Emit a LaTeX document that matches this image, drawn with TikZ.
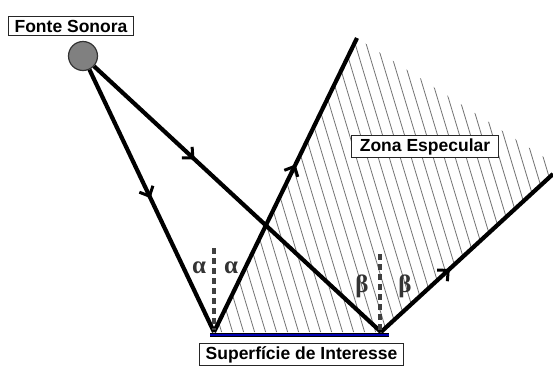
\documentclass[tikz,border=0pt]{standalone}
\usepackage{fontspec}
\setmainfont{Liberation Sans}
\newfontfamily\greekfont{Liberation Serif}
\usetikzlibrary{arrows.meta,decorations.markings}
\begin{document}
\begin{tikzpicture}[x=1pt,y=-1pt,
  ray/.style={line width=4.2pt},
  midarrow/.style={postaction={decorate},decoration={markings,
     mark=at position #1 with {\arrow{Straight Barb[length=8pt,width=15pt,line width=3pt]}}}},
  labelbox/.style={draw=black!85,line width=1.1pt,fill=white,font=\bfseries\fontsize{17.5}{20}\selectfont,inner xsep=6pt,inner ysep=3pt},
  greek/.style={text=black!80,font=\greekfont\bfseries\fontsize{25}{28}\selectfont,inner sep=0pt},
  normal/.style={draw=black!75,line width=3.4pt,dash pattern=on 6pt off 4pt},
  hatch/.style={draw=black!55,line width=0.8pt}]
\useasboundingbox (0,0) rectangle (553,365);
\fill[white] (0,0) rectangle (553,365);
% points
\coordinate (A) at (214,332);
\coordinate (B) at (381,332);
\coordinate (T) at (357,38);
\coordinate (E) at (553,174);
\coordinate (H) at (553,163);
\coordinate (SL) at (210,335);
\coordinate (SR) at (389,335);
% hatched specular zone
\begin{scope}
  \clip (A) -- (T) -- (H) -- (E) -- (B) -- cycle;
  \foreach \x in {100,111,...,700} \draw[hatch] (\x,0) -- (\x+120,400);
\end{scope}
% source
\node[circle,draw=black!80,line width=1.2pt,fill=black!50,minimum size=29pt,inner sep=0pt] (src) at (83,56) {};
% rays
\draw[ray,midarrow=0.49] (src) -- (A);
\draw[ray,midarrow=0.35] (src) -- (B);
\draw[ray,midarrow=0.57] (A) -- (T);
\draw[ray,midarrow=0.40] (B) -- (E);
% surface
\draw[line width=4.6pt,black] (SL) -- (SR);
\draw[line width=1.6pt,blue!70!black] (SL) -- (SR);
% normals
\coordinate (NA1) at (214,248);
\coordinate (NA2) at (214,330);
\coordinate (NB1) at (380,254);
\coordinate (NB2) at (380,330);
\draw[normal] (NA1) -- (NA2);
\draw[normal] (NB1) -- (NB2);
% angle labels
\node[greek] (a1) at (199,268) {α};
\node[greek] (a2) at (231,268) {α};
\node[greek] (b1) at (362,286) {β};
\node[greek] (b2) at (405,286) {β};
% labels
\node[labelbox] (lsrc) at (71,26) {Fonte Sonora};
\node[labelbox,inner xsep=8pt] (lzone) at (425,146.5) {Zona Especular};
\node[labelbox,anchor=north] (lsurf) at (301.5,343) {Superfície de Interesse};
\end{tikzpicture}
\end{document}
